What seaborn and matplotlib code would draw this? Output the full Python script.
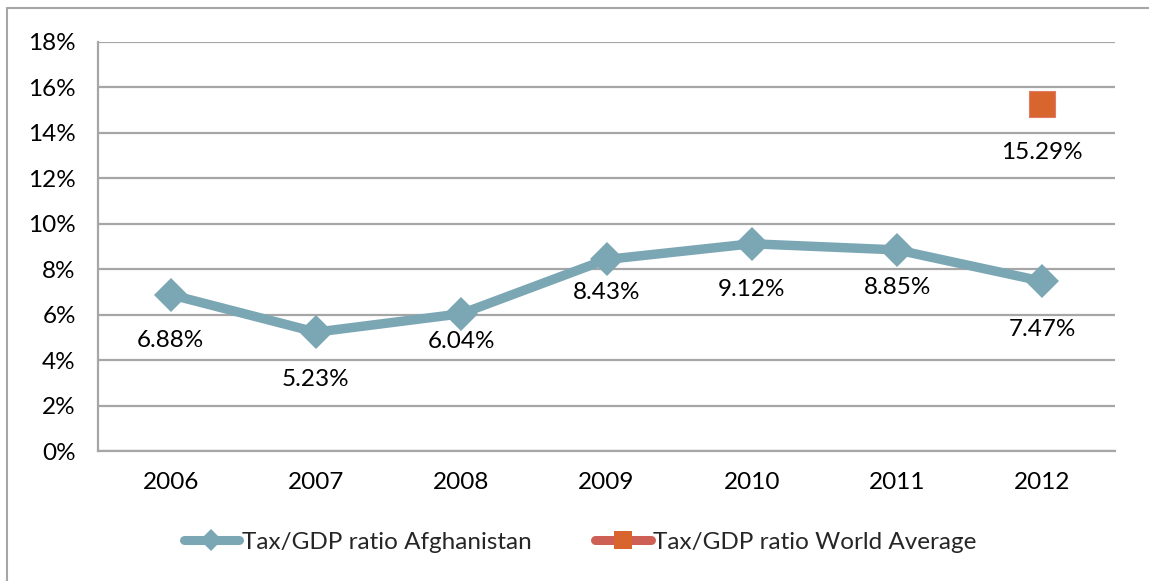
import matplotlib
matplotlib.use("Agg")
import matplotlib.pyplot as plt
from matplotlib.lines import Line2D
import numpy as np
import pandas as pd
import seaborn as sns

years = ["2006", "2007", "2008", "2009", "2010", "2011", "2012"]
afghanistan = [6.88, 5.23, 6.04, 8.43, 9.12, 8.85, 7.47]
world_year = ["2012"]
world_average = [15.29]
y_ticks = [0, 2, 4, 6, 8, 10, 12, 14, 16, 18]

sns.set_theme(style="white")
plt.rcParams["font.family"] = ["Lato", "DejaVu Sans"]

line_color = "#7BA7B5"
square_color = "#D9652E"
grid_color = "#A6A6A6"
font_size = 17.5
# label drop below each point, in points (as placed in the source chart)
afg_label_drop = [33, 34, 20, 24, 33, 27, 35]
world_label_drop = [35]

afg_df = pd.DataFrame({"year": np.arange(len(years)), "ratio": afghanistan})
world_df = pd.DataFrame({"year": [years.index(y) for y in world_year], "ratio": world_average})

fig = plt.figure(figsize=(11.49, 5.81), dpi=100)
ax = fig.add_axes([98 / 1149, 1 - 451 / 581, 1017 / 1149, 409 / 581])

sns.lineplot(data=afg_df, x="year", y="ratio", color=line_color, linewidth=6.8,
             marker="D", markersize=17, markeredgewidth=0, ax=ax)
sns.scatterplot(data=world_df, x="year", y="ratio", color=square_color, marker="s",
                s=340, edgecolor="#E07A6A", linewidth=0.8, ax=ax, zorder=3)

for x, v, d in zip(afg_df["year"], afg_df["ratio"], afg_label_drop):
    ax.annotate(f"{v:.2f}%", (x, v), xytext=(0, -d), textcoords="offset points",
                ha="center", va="center", fontsize=font_size, color="black")
for x, v, d in zip(world_df["year"], world_df["ratio"], world_label_drop):
    ax.annotate(f"{v:.2f}%", (x, v), xytext=(0, -d), textcoords="offset points",
                ha="center", va="center", fontsize=font_size, color="black")

ax.set_xlim(-0.5, len(years) - 0.5)
ax.set_ylim(0, 18)
ax.set_xticks(range(len(years)))
ax.set_xticklabels(years)
ax.set_yticks(y_ticks)
ax.set_yticklabels([f"{t}%" for t in y_ticks])
ax.tick_params(axis="both", labelsize=font_size, length=0, colors="black")
ax.tick_params(axis="x", pad=15)
ax.tick_params(axis="y", pad=16)
ax.set_xlabel("")
ax.set_ylabel("")
ax.yaxis.grid(True, color=grid_color, linewidth=1.6)
ax.set_axisbelow(True)
for side in ["top", "right"]:
    ax.spines[side].set_visible(False)
for side in ["left", "bottom"]:
    ax.spines[side].set_color(grid_color)
    ax.spines[side].set_linewidth(1.6)

handles = [
    Line2D([], [], color=line_color, linewidth=6.5, marker="D", markersize=11,
           markeredgewidth=0, solid_capstyle="round"),
    Line2D([], [], color="#CD5F55", linewidth=6.5, marker="s", markersize=13,
           markerfacecolor=square_color, markeredgewidth=0, solid_capstyle="round"),
]
fig.legend(handles, ["Tax/GDP ratio Afghanistan", "Tax/GDP ratio World Average"],
           loc="center", bbox_to_anchor=(580 / 1149, 1 - 542 / 581), ncol=2,
           frameon=False, fontsize=font_size, handlelength=2.3, handletextpad=0.1,
           columnspacing=2.6)

# outer chart border (partially cropped in the source)
fig.add_artist(Line2D([7 / 1149, 7 / 1149], [0, 1 - 8 / 581], color=grid_color,
                      linewidth=1.5, transform=fig.transFigure))
fig.add_artist(Line2D([7 / 1149, 1], [1 - 8 / 581, 1 - 8 / 581], color=grid_color,
                      linewidth=1.5, transform=fig.transFigure))

fig.savefig("out.png", dpi=100)
